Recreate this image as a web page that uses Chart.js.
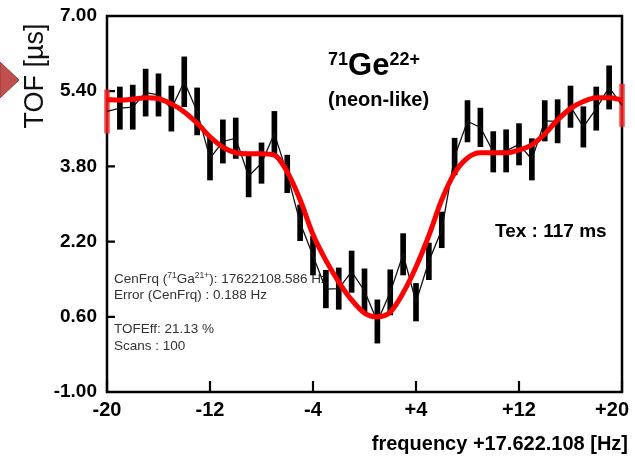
<!DOCTYPE html>
<html>
<head>
<meta charset="utf-8">
<script src="https://cdn.jsdelivr.net/npm/chart.js@4.4.1/dist/chart.umd.min.js"></script>
<style>
  html, body { margin: 0; padding: 0; background: #fff; }
</style>
</head>
<body>
<canvas id="tofChart" width="635" height="462"></canvas>
<script>
// Frequency offsets in Hz, relative to 17.622.108 Hz
const freqOffsets = [-20, -19, -18, -17, -16, -15, -14, -13, -12, -11, -10, -9, -8, -7, -6, -5, -4, -3, -2, -1,
                     0, 1, 2, 3, 4, 5, 6, 7, 8, 9, 10, 11, 12, 13, 14, 15, 16, 17, 18, 19, 20];
// Measured mean time of flight (us) and its error
const tofMeans = [4.97, 5.04, 5.06, 5.37, 5.32, 5.03, 5.60, 4.97, 3.97, 4.33, 4.40, 3.59, 3.87, 4.50, 3.64, 2.60, 1.90, 1.19, 1.20, 1.56,
                  1.15, 0.50, 1.12, 1.93, 0.91, 1.78, 2.45, 4.01, 4.76, 4.63, 4.11, 4.13, 4.27, 3.95, 4.77, 4.76, 5.07, 4.64, 5.03, 5.48, 5.10];
const tofErrors = [0.46, 0.45, 0.47, 0.50, 0.45, 0.48, 0.53, 0.50, 0.46, 0.46, 0.43, 0.44, 0.43, 0.47, 0.40, 0.38, 0.41, 0.40, 0.44, 0.44,
                   0.47, 0.46, 0.48, 0.44, 0.40, 0.39, 0.38, 0.39, 0.44, 0.41, 0.43, 0.45, 0.44, 0.44, 0.43, 0.46, 0.44, 0.43, 0.46, 0.46, 0.45];
const fitTof = [5.22, 5.21, 5.23, 5.26, 5.24, 5.13, 4.96, 4.72, 4.43, 4.21, 4.09, 4.07, 4.07, 4.04, 3.68, 3.09, 2.35, 1.80, 1.34, 0.96,
                0.68, 0.60, 0.70, 1.11, 1.66, 2.33, 3.09, 3.66, 3.98, 4.09, 4.09, 4.09, 4.15, 4.26, 4.49, 4.79, 5.03, 5.18, 5.26, 5.26, 5.21];

const xTicks = [-20, -12, -4, 4, 12, 20];
const yTicks = [-1.00, 0.60, 2.20, 3.80, 5.40, 7.00];

const FONT = '"Liberation Sans", Arial, Helvetica, sans-serif';

function xLabel(v) {
    return v > 0 ? '+' + v : String(v);
}

// draw a run of text pieces (for superscripts), returns end x
function drawRuns(ctx, x, y, runs) {
    runs.forEach(r => {
        ctx.font = r.font;
        ctx.fillText(r.text, x, y + (r.dy || 0));
        x += ctx.measureText(r.text).width;
    });
    return x;
}

const frameAndNotes = {
    id: 'frameAndNotes',
    beforeDatasetsDraw(chart) {
        const { ctx, chartArea: a, scales: { x, y } } = chart;
        ctx.save();
        ctx.textBaseline = 'alphabetic';
        ctx.textAlign = 'left';

        // ion label
        ctx.fillStyle = '#000';
        drawRuns(ctx, 328, 75, [
            { text: '71', font: 'bold 18px ' + FONT, dy: -10 },
            { text: 'Ge', font: 'bold 31px ' + FONT },
            { text: '22+', font: 'bold 18px ' + FONT, dy: -10 }
        ]);
        ctx.font = 'bold 20px ' + FONT;
        ctx.fillText('(neon-like)', 328, 106);
        ctx.font = 'bold 19px ' + FONT;
        ctx.fillText('Tex : 117 ms', 495, 237);

        // fit info
        ctx.fillStyle = '#333';
        const f = '13.5px ' + FONT, fs = '8.5px ' + FONT;
        drawRuns(ctx, 114, 283, [
            { text: 'CenFrq (', font: f },
            { text: '71', font: fs, dy: -5 },
            { text: 'Ga', font: f },
            { text: '21+', font: fs, dy: -5 },
            { text: '): 17622108.586 Hz', font: f }
        ]);
        ctx.font = f;
        ctx.fillText('Error (CenFrq) : 0.188 Hz', 114, 299);
        ctx.fillText('TOFEff: 21.13 %', 114, 333);
        ctx.fillText('Scans : 100', 114, 350);

        // frame
        ctx.strokeStyle = '#000';
        ctx.lineWidth = 2.5;
        ctx.strokeRect(a.left, a.top, a.right - a.left, a.bottom - a.top);

        // inner tick marks
        ctx.lineWidth = 2.2;
        ctx.beginPath();
        xTicks.forEach(v => {
            const px = x.getPixelForValue(v);
            ctx.moveTo(px, a.bottom);
            ctx.lineTo(px, a.bottom - 11);
        });
        yTicks.forEach(v => {
            const py = y.getPixelForValue(v);
            ctx.moveTo(a.left, py);
            ctx.lineTo(a.left + 8, py);
        });
        ctx.stroke();

        // x tick labels, the last one kept inside the canvas
        ctx.fillStyle = '#000';
        ctx.font = 'bold 20px ' + FONT;
        ctx.textBaseline = 'middle';
        ctx.textAlign = 'center';
        xTicks.forEach(v => {
            const txt = xLabel(v);
            const w = ctx.measureText(txt).width;
            let cx = x.getPixelForValue(v);
            if (cx + w / 2 > 629) cx = 629 - w / 2;
            ctx.fillText(txt, cx, a.bottom + 18);
        });
        ctx.restore();
    },
    afterDraw(chart) {
        const { ctx } = chart;
        ctx.save();
        // axis titles
        ctx.fillStyle = '#000';
        ctx.font = 'bold 20px ' + FONT;
        ctx.textAlign = 'right';
        ctx.textBaseline = 'alphabetic';
        ctx.fillText('frequency +17.622.108 [Hz]', 628, 450);

        ctx.translate(36, 76);
        ctx.rotate(-Math.PI / 2);
        ctx.textAlign = 'center';
        ctx.textBaseline = 'middle';
        ctx.font = '27px ' + FONT;
        ctx.fillStyle = '#111';
        ctx.fillText('TOF [\u00b5s]', 0, 0);
        ctx.restore();

        // pointer arrow at the left edge
        ctx.save();
        ctx.fillStyle = '#c0504d';
        ctx.strokeStyle = '#9c3b38';
        ctx.lineWidth = 1;
        ctx.beginPath();
        ctx.moveTo(0, 62);
        ctx.lineTo(19, 80);
        ctx.lineTo(0, 98);
        ctx.closePath();
        ctx.fill();
        ctx.stroke();
        ctx.restore();
    }
};

new Chart(document.getElementById('tofChart'), {
    type: 'line',
    data: {
        datasets: [
            {
                label: 'Fit',
                data: freqOffsets.map((f, i) => ({ x: f, y: fitTof[i] })),
                borderColor: '#ff0000',
                borderWidth: 5,
                pointRadius: 0,
                cubicInterpolationMode: 'monotone',
                fill: false
            },
            {
                label: 'TOF',
                data: freqOffsets.map((f, i) => ({ x: f, y: tofMeans[i] })),
                borderColor: '#111',
                borderWidth: 1.3,
                pointRadius: 0,
                tension: 0,
                fill: false
            },
            {
                type: 'bar',
                label: 'Error',
                data: freqOffsets.map((f, i) => ({ x: f, y: [tofMeans[i] - tofErrors[i], tofMeans[i] + tofErrors[i]] })),
                backgroundColor: freqOffsets.map(f => Math.abs(f) === 20 ? 'rgba(255,40,40,0.8)' : '#000'),
                barThickness: 5,
                borderWidth: 0,
                clip: false
            }
        ]
    },
    options: {
        responsive: false,
        animation: false,
        layout: { padding: { left: 0, top: 16, right: 13, bottom: 0 } },
        plugins: {
            legend: { display: false },
            tooltip: { enabled: false }
        },
        scales: {
            x: {
                type: 'linear',
                min: -20,
                max: 20,
                offset: false,
                grid: { display: false, drawTicks: false },
                border: { display: false },
                ticks: { display: false },
                afterBuildTicks: s => { s.ticks = xTicks.map(v => ({ value: v })); },
                afterFit: s => { s.height = 70; s.paddingLeft = 0; s.paddingRight = 0; }
            },
            y: {
                type: 'linear',
                min: -1,
                max: 7,
                grid: { display: false, drawTicks: false },
                border: { display: false },
                ticks: {
                    color: '#000',
                    font: { family: FONT, size: 19, weight: 'bold' },
                    padding: 10,
                    callback: v => Number(v).toFixed(2)
                },
                afterBuildTicks: s => { s.ticks = yTicks.map(v => ({ value: v })); },
                afterFit: s => { s.width = 107; s.paddingTop = 0; s.paddingBottom = 0; }
            }
        }
    },
    plugins: [frameAndNotes]
});
</script>
</body>
</html>
